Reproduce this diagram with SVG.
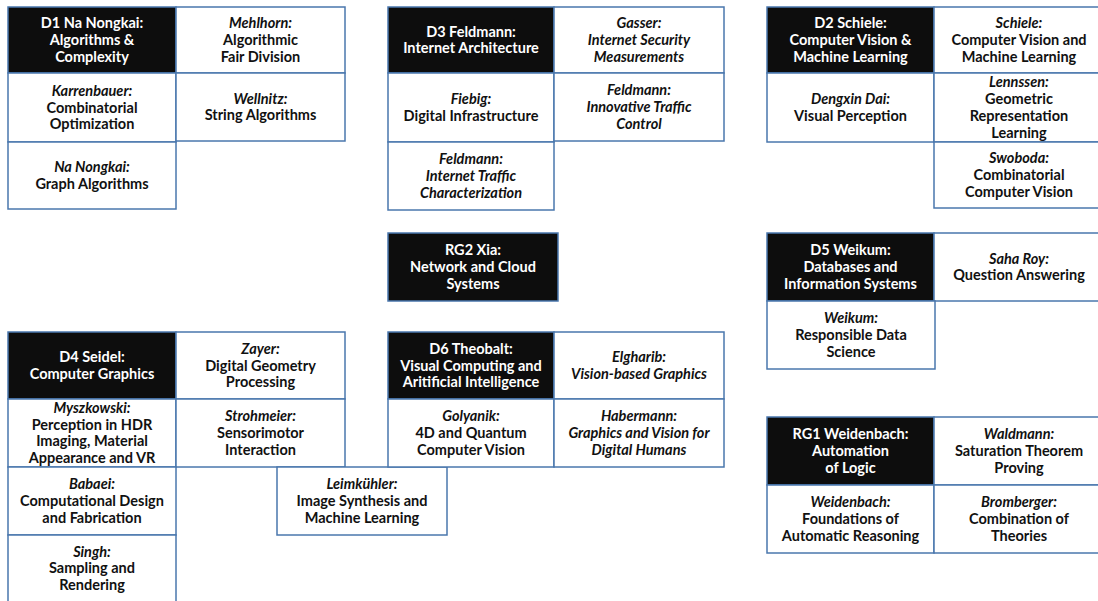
<svg xmlns="http://www.w3.org/2000/svg" width="1098" height="601" viewBox="0 0 1098 601">
  <style>
    .cell { stroke: #4a77ad; stroke-width: 1.5; }
    .dark { fill: #0d0d0d; }
    .light { fill: #ffffff; }
    text { font-family: Lato, "Open Sans", "Liberation Sans", sans-serif; font-weight: bold; font-size: 14.5px; text-anchor: middle; fill: #111111; }
    .head text { fill: #ffffff; }
    .it { font-style: italic; }
  </style>
  <rect x="0" y="0" width="1098" height="601" fill="#ffffff"/>

  <!-- D1 cluster -->
  <g id="d1" class="head">
    <rect class="cell dark" x="8" y="7" width="168" height="66"/>
    <text x="92" y="28.3">D1 Na Nongkai:</text>
    <text x="92" y="45">Algorithms &amp;</text>
    <text x="92" y="61.7">Complexity</text>
  </g>
  <g id="mehlhorn">
    <rect class="cell light" x="176" y="7" width="169" height="66"/>
    <text class="it" x="260.5" y="28.3">Mehlhorn:</text>
    <text x="260.5" y="45">Algorithmic</text>
    <text x="260.5" y="61.7">Fair Division</text>
  </g>
  <g id="karrenbauer">
    <rect class="cell light" x="8" y="73" width="168" height="69"/>
    <text class="it" x="92" y="95.8">Karrenbauer:</text>
    <text x="92" y="112.5">Combinatorial</text>
    <text x="92" y="129.2">Optimization</text>
  </g>
  <g id="wellnitz">
    <rect class="cell light" x="176" y="73" width="169" height="68"/>
    <text class="it" x="260.5" y="103.6">Wellnitz:</text>
    <text x="260.5" y="120.3">String Algorithms</text>
  </g>
  <g id="na-nongkai">
    <rect class="cell light" x="8" y="142" width="168" height="67"/>
    <text class="it" x="92" y="172.1">Na Nongkai:</text>
    <text x="92" y="188.8">Graph Algorithms</text>
  </g>

  <!-- D3 cluster -->
  <g id="d3" class="head">
    <rect class="cell dark" x="388" y="7" width="166" height="66"/>
    <text x="471" y="36.6">D3 Feldmann:</text>
    <text x="471" y="53.3">Internet Architecture</text>
  </g>
  <g id="gasser">
    <rect class="cell light" x="554" y="7" width="170" height="66"/>
    <text class="it" x="639" y="28.3">Gasser:</text>
    <text class="it" x="639" y="45">Internet Security</text>
    <text class="it" x="639" y="61.7">Measurements</text>
  </g>
  <g id="fiebig">
    <rect class="cell light" x="388" y="73" width="166" height="69"/>
    <text class="it" x="471" y="104.1">Fiebig:</text>
    <text x="471" y="120.8">Digital Infrastructure</text>
  </g>
  <g id="feldmann-control">
    <rect class="cell light" x="554" y="73" width="170" height="68"/>
    <text class="it" x="639" y="95.3">Feldmann:</text>
    <text class="it" x="639" y="112">Innovative Traffic</text>
    <text class="it" x="639" y="128.7">Control</text>
  </g>
  <g id="feldmann-characterization">
    <rect class="cell light" x="388" y="142" width="166" height="68"/>
    <text class="it" x="471" y="164.3">Feldmann:</text>
    <text class="it" x="471" y="181">Internet Traffic</text>
    <text class="it" x="471" y="197.7">Characterization</text>
  </g>

  <!-- D2 cluster -->
  <g id="d2" class="head">
    <rect class="cell dark" x="767" y="7" width="167" height="66"/>
    <text x="850.5" y="28.3">D2 Schiele:</text>
    <text x="850.5" y="45">Computer Vision &amp;</text>
    <text x="850.5" y="61.7">Machine Learning</text>
  </g>
  <g id="schiele">
    <rect class="cell light" x="934" y="7" width="170" height="66"/>
    <text class="it" x="1019" y="28.3">Schiele:</text>
    <text x="1019" y="45">Computer Vision and</text>
    <text x="1019" y="61.7">Machine Learning</text>
  </g>
  <g id="dai">
    <rect class="cell light" x="767" y="73" width="167" height="69"/>
    <text class="it" x="850.5" y="104.1">Dengxin Dai:</text>
    <text x="850.5" y="120.8">Visual Perception</text>
  </g>
  <g id="lennssen">
    <rect class="cell light" x="934" y="73" width="170" height="69"/>
    <text class="it" x="1019" y="87.4">Lennssen:</text>
    <text x="1019" y="104.1">Geometric</text>
    <text x="1019" y="120.8">Representation</text>
    <text x="1019" y="137.5">Learning</text>
  </g>
  <g id="swoboda">
    <rect class="cell light" x="934" y="142" width="170" height="66"/>
    <text class="it" x="1019" y="163.3">Swoboda:</text>
    <text x="1019" y="180">Combinatorial</text>
    <text x="1019" y="196.7">Computer Vision</text>
  </g>

  <!-- RG2 -->
  <g id="rg2" class="head">
    <rect class="cell dark" x="388" y="233" width="170" height="68"/>
    <text x="473" y="255.3">RG2 Xia:</text>
    <text x="473" y="272">Network and Cloud</text>
    <text x="473" y="288.7">Systems</text>
  </g>

  <!-- D5 cluster -->
  <g id="d5" class="head">
    <rect class="cell dark" x="767" y="233" width="167" height="68"/>
    <text x="850.5" y="255.3">D5 Weikum:</text>
    <text x="850.5" y="272">Databases and</text>
    <text x="850.5" y="288.7">Information Systems</text>
  </g>
  <g id="saha-roy">
    <rect class="cell light" x="934" y="233" width="170" height="68"/>
    <text class="it" x="1019" y="263.6">Saha Roy:</text>
    <text x="1019" y="280.3">Question Answering</text>
  </g>
  <g id="weikum">
    <rect class="cell light" x="767" y="301" width="168" height="68"/>
    <text class="it" x="851" y="323.3">Weikum:</text>
    <text x="851" y="340">Responsible Data</text>
    <text x="851" y="356.7">Science</text>
  </g>

  <!-- D4 cluster -->
  <g id="d4" class="head">
    <rect class="cell dark" x="8" y="332" width="168" height="67"/>
    <text x="92" y="362.1">D4 Seidel:</text>
    <text x="92" y="378.8">Computer Graphics</text>
  </g>
  <g id="zayer">
    <rect class="cell light" x="176" y="332" width="169" height="67"/>
    <text class="it" x="260.5" y="353.8">Zayer:</text>
    <text x="260.5" y="370.5">Digital Geometry</text>
    <text x="260.5" y="387.2">Processing</text>
  </g>
  <g id="myszkowski">
    <rect class="cell light" x="8" y="399" width="168" height="68"/>
    <text class="it" x="92" y="412.9">Myszkowski:</text>
    <text x="92" y="429.6">Perception in HDR</text>
    <text x="92" y="446.3">Imaging, Material</text>
    <text x="92" y="463">Appearance and VR</text>
  </g>
  <g id="strohmeier">
    <rect class="cell light" x="176" y="399" width="169" height="68"/>
    <text class="it" x="260.5" y="421.3">Strohmeier:</text>
    <text x="260.5" y="438">Sensorimotor</text>
    <text x="260.5" y="454.7">Interaction</text>
  </g>
  <g id="babaei">
    <rect class="cell light" x="8" y="467" width="168" height="68"/>
    <text class="it" x="92" y="489.3">Babaei:</text>
    <text x="92" y="506">Computational Design</text>
    <text x="92" y="522.7">and Fabrication</text>
  </g>
  <g id="singh">
    <rect class="cell light" x="8" y="535" width="168" height="67"/>
    <text class="it" x="92" y="556.7">Singh:</text>
    <text x="92" y="573.3">Sampling and</text>
    <text x="92" y="590">Rendering</text>
  </g>
  <g id="leimkuehler">
    <rect class="cell light" x="277" y="467" width="170" height="68"/>
    <text class="it" x="362" y="489.3">Leimkühler:</text>
    <text x="362" y="506">Image Synthesis and</text>
    <text x="362" y="522.7">Machine Learning</text>
  </g>

  <!-- D6 cluster -->
  <g id="d6" class="head">
    <rect class="cell dark" x="388" y="332" width="166" height="67"/>
    <text x="471" y="353.8">D6 Theobalt:</text>
    <text x="471" y="370.5">Visual Computing and</text>
    <text x="471" y="387.2">Aritificial Intelligence</text>
  </g>
  <g id="elgharib">
    <rect class="cell light" x="554" y="332" width="170" height="67"/>
    <text class="it" x="639" y="362.1">Elgharib:</text>
    <text class="it" x="639" y="378.8">Vision-based Graphics</text>
  </g>
  <g id="golyanik">
    <rect class="cell light" x="388" y="399" width="166" height="68"/>
    <text class="it" x="471" y="421.3">Golyanik:</text>
    <text x="471" y="438">4D and Quantum</text>
    <text x="471" y="454.7">Computer Vision</text>
  </g>
  <g id="habermann">
    <rect class="cell light" x="554" y="399" width="170" height="68"/>
    <text class="it" x="639" y="421.3">Habermann:</text>
    <text class="it" x="639" y="438">Graphics and Vision for</text>
    <text class="it" x="639" y="454.7">Digital Humans</text>
  </g>

  <!-- RG1 cluster -->
  <g id="rg1" class="head">
    <rect class="cell dark" x="767" y="417" width="167" height="68"/>
    <text x="850.5" y="439.3">RG1 Weidenbach:</text>
    <text x="850.5" y="456">Automation</text>
    <text x="850.5" y="472.7">of Logic</text>
  </g>
  <g id="waldmann">
    <rect class="cell light" x="934" y="417" width="170" height="68"/>
    <text class="it" x="1019" y="439.3">Waldmann:</text>
    <text x="1019" y="456">Saturation Theorem</text>
    <text x="1019" y="472.7">Proving</text>
  </g>
  <g id="weidenbach">
    <rect class="cell light" x="767" y="485" width="167" height="68"/>
    <text class="it" x="850.5" y="507.3">Weidenbach:</text>
    <text x="850.5" y="524">Foundations of</text>
    <text x="850.5" y="540.7">Automatic Reasoning</text>
  </g>
  <g id="bromberger">
    <rect class="cell light" x="934" y="485" width="170" height="68"/>
    <text class="it" x="1019" y="507.3">Bromberger:</text>
    <text x="1019" y="524">Combination of</text>
    <text x="1019" y="540.7">Theories</text>
  </g>
</svg>
